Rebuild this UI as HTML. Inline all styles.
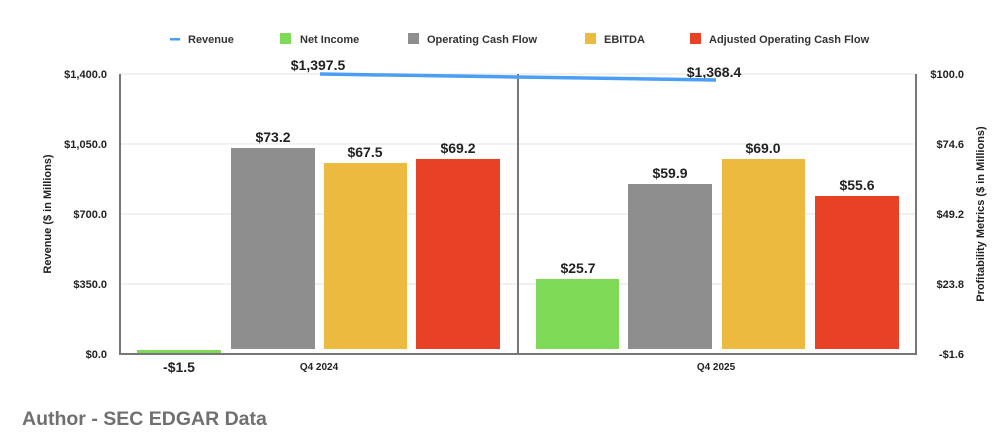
<!DOCTYPE html>
<html><head><meta charset="utf-8"><style>
body{margin:0;background:#fff;width:1000px;height:439px;overflow:hidden}
text{font-family:"Liberation Sans",Arial,sans-serif;font-weight:bold}
</style></head><body>
<svg width="1000" height="439" xmlns="http://www.w3.org/2000/svg">
<g font-size="11" fill="#333">
<rect x="170" y="38" width="10" height="2.5" fill="#4a9ff5"/><text x="188" y="43" fill="#333">Revenue</text>
<rect x="280" y="33" width="11" height="11" fill="#7ed957"/><text x="300" y="43">Net Income</text>
<rect x="408" y="33" width="11" height="11" fill="#8e8e8e"/><text x="427" y="43">Operating Cash Flow</text>
<rect x="585" y="33" width="11" height="11" fill="#ecba3e"/><text x="604" y="43">EBITDA</text>
<rect x="690" y="33" width="11" height="11" fill="#e84125"/><text x="709" y="43">Adjusted Operating Cash Flow</text>
</g>
<g stroke="#e3e3e3" stroke-width="1">
<line x1="120" y1="74" x2="916" y2="74"/><line x1="120" y1="144" x2="916" y2="144"/>
<line x1="120" y1="214" x2="916" y2="214"/><line x1="120" y1="284" x2="916" y2="284"/>
</g>
<g stroke="#777" stroke-width="2">
<line x1="120" y1="74" x2="120" y2="354"/><line x1="916" y1="74" x2="916" y2="354"/>
<line x1="518" y1="74" x2="518" y2="354"/><line x1="119" y1="354" x2="917" y2="354"/>
</g>
<g font-size="11" fill="#222" text-anchor="end">
<text x="107" y="78">$1,400.0</text><text x="107" y="148">$1,050.0</text><text x="107" y="218">$700.0</text><text x="107" y="288">$350.0</text><text x="107" y="358">$0.0</text>
</g>
<g font-size="11" fill="#222" text-anchor="end">
<text x="964" y="78">$100.0</text><text x="964" y="148">$74.6</text><text x="964" y="218">$49.2</text><text x="964" y="288">$23.8</text><text x="964" y="358">-$1.6</text>
</g>
<text font-size="11" fill="#222" text-anchor="middle" transform="translate(51,214) rotate(-90)">Revenue ($ in Millions)</text>
<text font-size="11" fill="#222" text-anchor="middle" transform="translate(984,214) rotate(-90)">Profitability Metrics ($ in Millions)</text>
<rect x="137" y="350" width="84" height="3" fill="#7ed957"/>
<rect x="231" y="148" width="84" height="201" fill="#8e8e8e"/>
<rect x="324" y="163" width="83" height="186" fill="#ecba3e"/>
<rect x="416" y="159" width="84" height="190" fill="#e84125"/>
<rect x="536" y="279" width="83" height="70" fill="#7ed957"/>
<rect x="628" y="184" width="84" height="165" fill="#8e8e8e"/>
<rect x="722" y="159" width="83" height="190" fill="#ecba3e"/>
<rect x="815" y="196" width="84" height="153" fill="#e84125"/>
<g font-size="14" fill="#222" text-anchor="middle">
<text x="273" y="142">$73.2</text><text x="365" y="157">$67.5</text><text x="458" y="153">$69.2</text>
<text x="578" y="273">$25.7</text><text x="670" y="178">$59.9</text><text x="763" y="153">$69.0</text><text x="857" y="190">$55.6</text>
<text x="179" y="372">-$1.5</text>
<text x="318" y="70">$1,397.5</text><text x="714" y="77">$1,368.4</text>
</g>
<line x1="320" y1="74" x2="716" y2="80" stroke="#4a9ff5" stroke-width="3.5"/>
<g font-size="10" fill="#222" text-anchor="middle">
<text x="319" y="370">Q4 2024</text><text x="716" y="370">Q4 2025</text>
</g>
<text x="22" y="425" font-size="19.5" fill="#707070">Author - SEC EDGAR Data</text>
</svg>
</body></html>
